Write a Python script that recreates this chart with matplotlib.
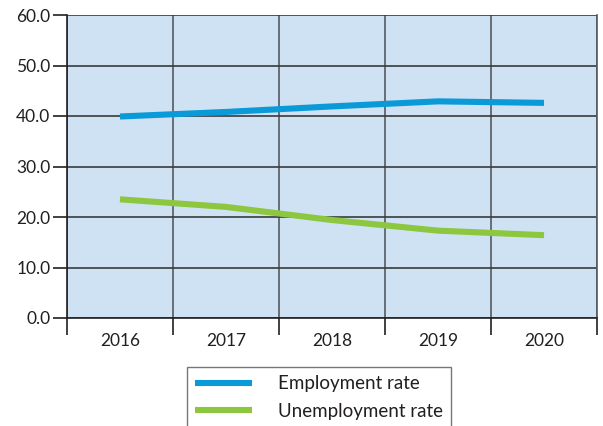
import matplotlib
matplotlib.use("Agg")
import matplotlib.pyplot as plt
import numpy as np

years = ["2016", "2017", "2018", "2019", "2020"]
employment = [39.9, 40.8, 41.9, 42.9, 42.6]
unemployment = [23.5, 22.0, 19.4, 17.3, 16.4]
yticks = [0, 10, 20, 30, 40, 50, 60]

plt.rcParams["font.family"] = ["Lato", "DejaVu Sans"]

W, H = 603, 426
fig = plt.figure(figsize=(W / 100, H / 100), dpi=100)
ax = fig.add_axes([67 / W, 1 - 318 / H, (597 - 67) / W, (318 - 15) / H])
ax.set_facecolor("#cfe2f3")

x = np.arange(len(years))
ax.plot(x, employment, color="#0a9ad8", lw=4.4, solid_capstyle="butt",
        label="Employment rate", zorder=3)
ax.plot(x, unemployment, color="#8dc63f", lw=4.4, solid_capstyle="butt",
        label="Unemployment rate", zorder=3)

ax.set_xlim(-0.5, len(years) - 0.5)
ax.set_ylim(0, 60)

# y axis
ax.set_yticks(yticks)
ax.set_yticklabels([f"{v:.1f}" for v in yticks], fontsize=12.5, color="#231f20")
ax.tick_params(axis="y", which="major", length=10, width=1.2, color="#231f20", pad=2)

# x axis: labels centred, ticks and grid on category boundaries
ax.set_xticks(x)
ax.set_xticklabels(years, fontsize=12.5, color="#231f20")
ax.tick_params(axis="x", which="major", length=0, pad=11)
ax.set_xticks(np.arange(-0.5, len(years)), minor=True)
ax.tick_params(axis="x", which="minor", length=12, width=1.2, color="#231f20")

ax.grid(axis="y", which="major", color="#3a3a3a", lw=1.2, zorder=1)
ax.grid(axis="x", which="minor", color="#555a60", lw=1.2, zorder=1)
ax.set_axisbelow(True)

ax.spines["top"].set_visible(False)
ax.spines["right"].set_color("#555a60")
ax.spines["right"].set_linewidth(1.2)
ax.spines["left"].set_color("#231f20")
ax.spines["left"].set_linewidth(1.2)
ax.spines["bottom"].set_color("#231f20")
ax.spines["bottom"].set_linewidth(1.2)

leg = fig.legend(loc="upper left", bbox_to_anchor=(187 / W, 1 - 367 / H),
                 fontsize=13.5, frameon=True, fancybox=False, handlelength=3.0,
                 handletextpad=1.4, labelspacing=0.55, borderpad=0.45,
                 borderaxespad=0)
leg.get_frame().set_edgecolor("#555555")
leg.get_frame().set_linewidth(1.0)
for t in leg.get_texts():
    t.set_color("#231f20")

fig.savefig("out.png", dpi=100)
